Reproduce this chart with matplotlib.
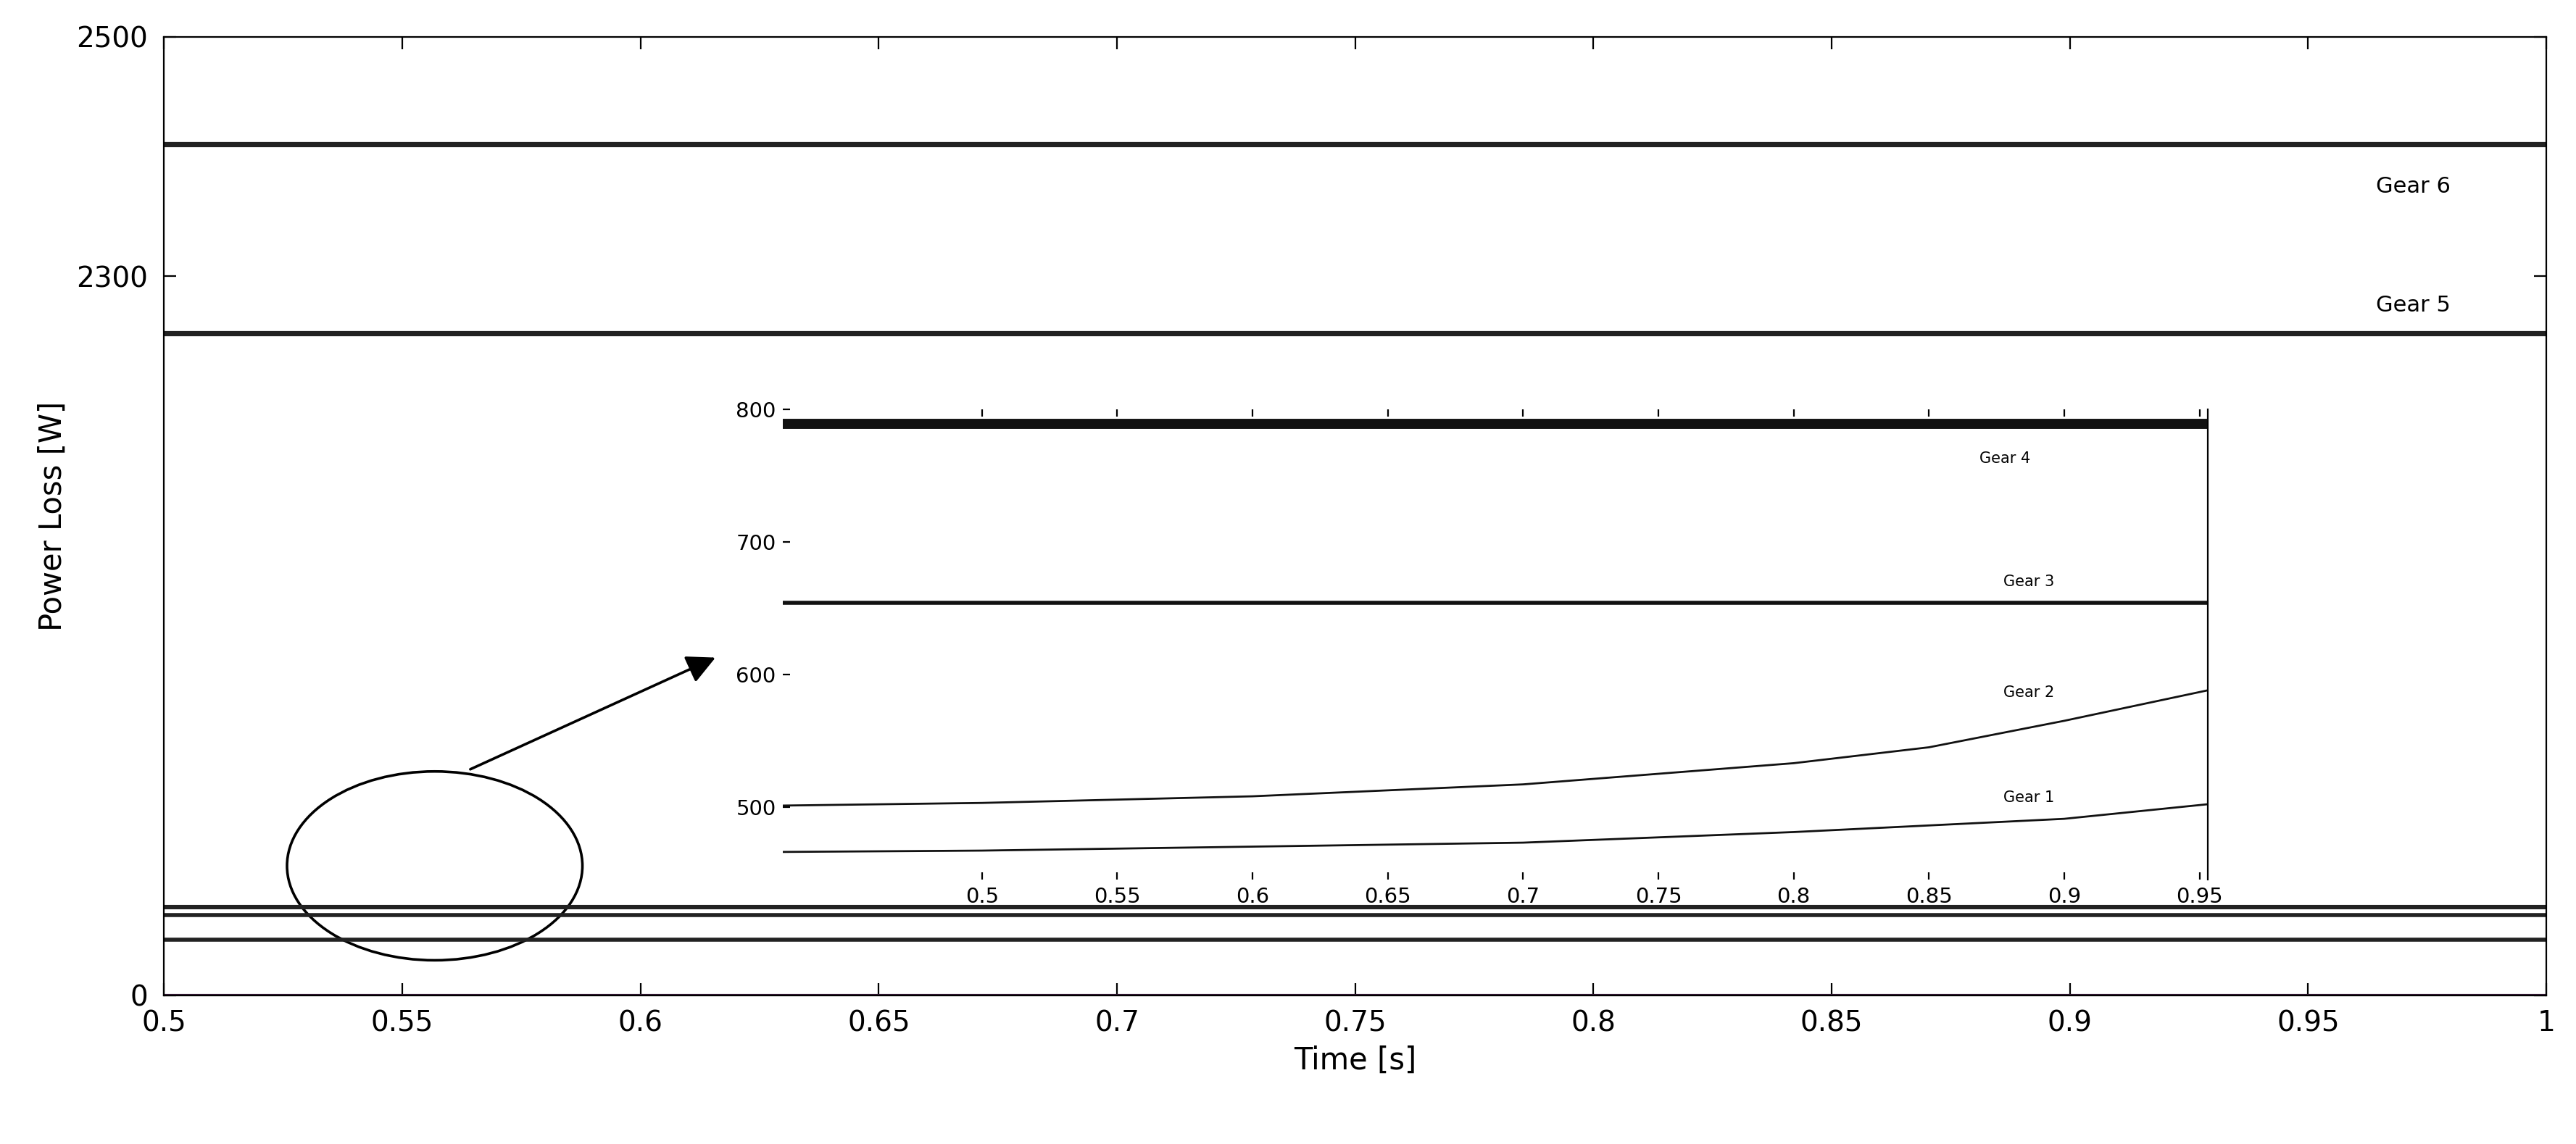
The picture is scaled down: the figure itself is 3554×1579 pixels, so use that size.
import numpy as np
import matplotlib
matplotlib.use("Agg")
import matplotlib.pyplot as plt
from matplotlib.patches import Ellipse

# main data
main_x = [0.5, 1.0]
gear6_main = [2410, 2410]
gear5_main = [2117, 2117]
low_a = [283, 283]
low_b = [257, 257]
low_c = [178, 178]

# inset data
inset_x = [0.4265, 0.5, 0.6, 0.7, 0.8, 0.85, 0.9, 0.953]
gear4_in = [789, 789, 789, 789, 789, 789, 789, 789]
gear3_in = [654, 654, 654, 654, 654, 654, 654, 654]
gear2_in = [501, 503, 508, 517, 533, 545, 565, 588]
gear1_in = [466, 467, 470, 473, 481, 486, 491, 502]

def fwd(y):
    y = np.asarray(y, float)
    return np.where(y <= 2300, y / 2300 * 0.75, 0.75 + (y - 2300) / 200 * 0.25)

def inv(v):
    v = np.asarray(v, float)
    return np.where(v <= 0.75, v / 0.75 * 2300, 2300 + (v - 0.75) / 0.25 * 200)

fig = plt.figure(figsize=(17.77, 7.895), dpi=200)
ax = fig.add_axes([0.0637, 0.130, 0.9248, 0.838])
ax.set_yscale('function', functions=(fwd, inv))
for ys, lw in [(gear6_main, 2.6), (gear5_main, 2.6), (low_a, 2.2), (low_b, 2.0), (low_c, 2.0)]:
    ax.plot(main_x, ys, color='#222222', lw=lw)
ax.axhline(0, color='#3a1a3a', lw=1.5)
ax.set_xlim(0.5, 1.0)
ax.set_ylim(0, 2500)
ax.set_yticks([0, 2300, 2500])
ax.set_yticklabels(['0', '2300', '2500'])
ax.set_xticks(np.arange(0.5, 1.0001, 0.05))
ax.set_xticklabels(['0.5', '0.55', '0.6', '0.65', '0.7', '0.75', '0.8', '0.85', '0.9', '0.95', '1'])
ax.tick_params(direction='in', labelsize=14, length=6, top=True, right=True)
ax.tick_params(axis='y', pad=8)
ax.tick_params(axis='x', pad=7)
ax.set_xlabel('Time [s]', fontsize=15)
ax.set_ylabel('Power Loss [W]', fontsize=15)
ax.text(0.972, 2375, 'Gear 6', fontsize=11, ha='center', va='center')
ax.text(0.972, 2206, 'Gear 5', fontsize=11, ha='center', va='center')
ax.add_patch(Ellipse((0.1136, 0.135), 0.124, 0.197, transform=ax.transAxes,
                     fill=False, ec='black', lw=1.3))
ax.annotate('', xy=(0.233, 0.354), xytext=(0.127, 0.234), xycoords='axes fraction',
            arrowprops=dict(arrowstyle='-|>', color='black', lw=1.3, mutation_scale=30))

ins = fig.add_axes([0.304, 0.231, 0.553, 0.411])
ins.set_facecolor('white')
ins.plot(inset_x, gear4_in, color='#111111', lw=5)
ins.plot(inset_x, gear3_in, color='#111111', lw=2)
ins.plot(inset_x, gear2_in, color='#111111', lw=1)
ins.plot(inset_x, gear1_in, color='#111111', lw=1)
ins.set_xlim(0.4265, 0.953)
ins.set_ylim(445, 800)
ins.set_xticks(np.arange(0.5, 0.951, 0.05))
ins.set_xticklabels(['0.5', '0.55', '0.6', '0.65', '0.7', '0.75', '0.8', '0.85', '0.9', '0.95'])
ins.set_yticks([500, 600, 700, 800])
ins.tick_params(direction='in', labelsize=10.5, top=True, right=False)
for s in ['left', 'bottom', 'top']:
    ins.spines[s].set_visible(False)
ins.text(0.878, 763, 'Gear 4', fontsize=7.5, ha='center', va='center')
ins.text(0.887, 670, 'Gear 3', fontsize=7.5, ha='center', va='center')
ins.text(0.887, 586, 'Gear 2', fontsize=7.5, ha='center', va='center')
ins.text(0.887, 507, 'Gear 1', fontsize=7.5, ha='center', va='center')

fig.savefig('out.png', dpi=200)
